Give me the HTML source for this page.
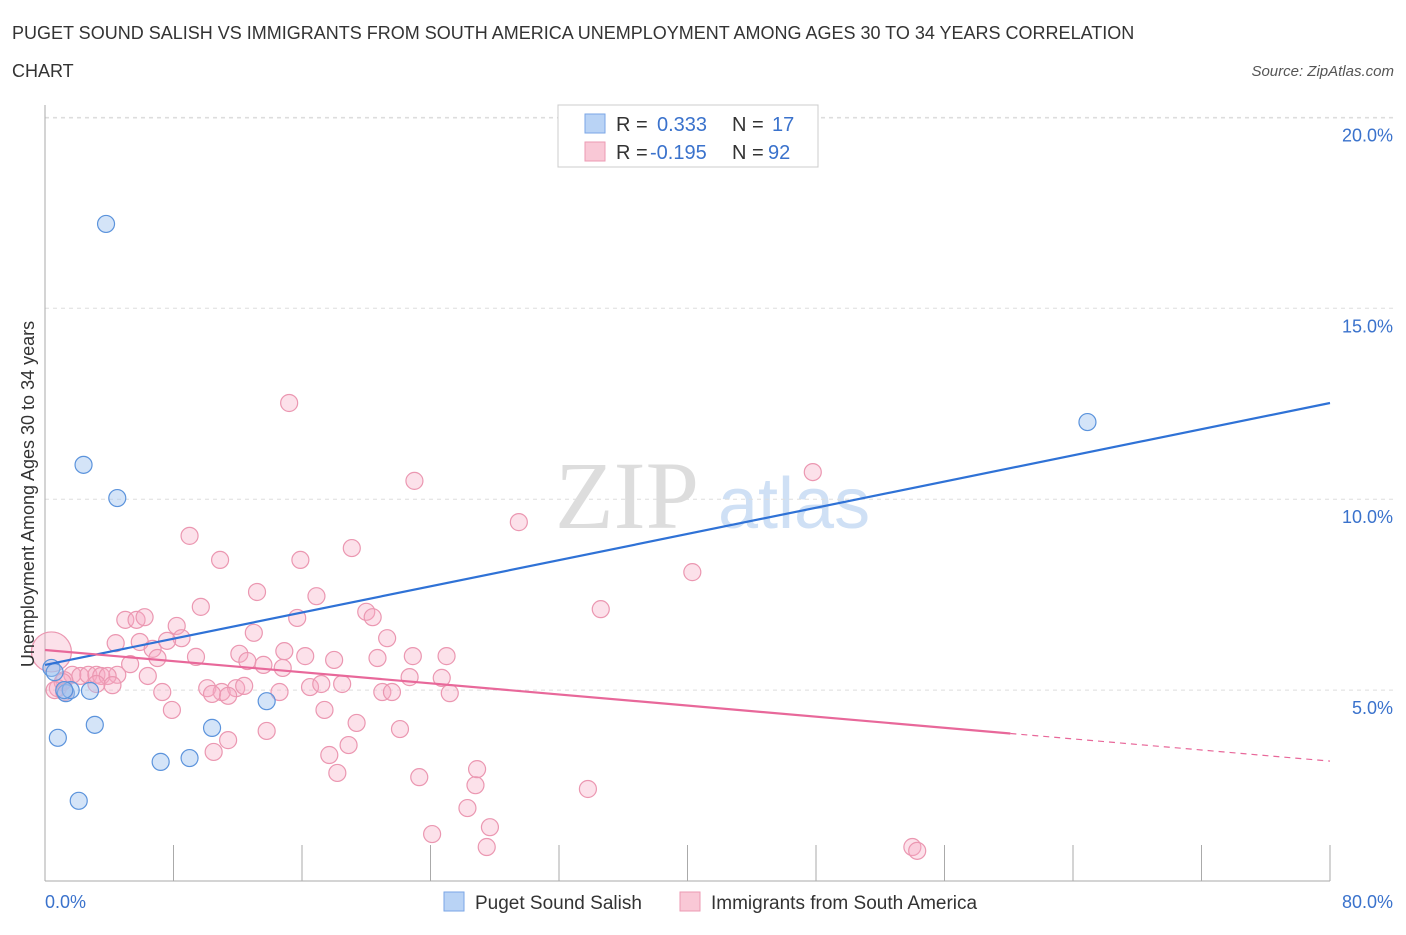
<!DOCTYPE html>
<html><head><meta charset="utf-8">
<style>
body{margin:0;background:#fff;font-family:"Liberation Sans",sans-serif;}
svg text{font-family:"Liberation Sans",sans-serif;}
</style></head>
<body>
<svg id="chart" width="1406" height="930" viewBox="0 0 1406 930">
<text x="12" y="39" font-size="18" fill="#333">PUGET SOUND SALISH VS IMMIGRANTS FROM SOUTH AMERICA UNEMPLOYMENT AMONG AGES 30 TO 34 YEARS CORRELATION</text>
<text x="12" y="77" font-size="18" fill="#333">CHART</text>
<text x="1394" y="76" font-size="15" fill="#555" font-style="italic" text-anchor="end">Source: ZipAtlas.com</text>
<text x="555" y="528" font-size="96" fill="#ddd" style="font-family:'Liberation Serif',serif">ZIP</text>
<text x="718" y="528" font-size="72" fill="#cfe0f5">atlas</text>
<g id="grid"></g>
<g id="axes"></g>
<g id="points"></g>
<g id="trends"></g>
<g>
<rect x="558" y="105" width="260" height="62" fill="#fff" stroke="#ccc"/>
<rect x="585" y="114" width="20" height="19" fill="#b9d3f5" stroke="#7aa6e6"/>
<text x="616" y="131" font-size="20" fill="#333">R =</text>
<text x="657" y="131" font-size="20" fill="#3a72cc">0.333</text>
<text x="732" y="131" font-size="20" fill="#333">N =</text>
<text x="772" y="131" font-size="20" fill="#3a72cc">17</text>
<rect x="585" y="142" width="20" height="19" fill="#f9c8d6" stroke="#ec9ab3"/>
<text x="616" y="159" font-size="20" fill="#333">R =</text>
<text x="650" y="159" font-size="20" fill="#3a72cc">-0.195</text>
<text x="732" y="159" font-size="20" fill="#333">N =</text>
<text x="768" y="159" font-size="20" fill="#3a72cc">92</text>
</g>
<g>
<rect x="444" y="892" width="20" height="19" fill="#b9d3f5" stroke="#7aa6e6"/>
<text x="475" y="909" font-size="19" fill="#333">Puget Sound Salish</text>
<rect x="680" y="892" width="20" height="19" fill="#f9c8d6" stroke="#ec9ab3"/>
<text x="711" y="909" font-size="19" fill="#333">Immigrants from South America</text>
</g>
<text x="34" y="494" font-size="18" fill="#333" text-anchor="middle" transform="rotate(-90 34 494)">Unemployment Among Ages 30 to 34 years</text>
</svg>
<script>
const yTicks=[5,10,15,20];
const yTickLabels=["5.0%","10.0%","15.0%","20.0%"];
const xTickCount=[0,8,16,24,32,40,48,56,64,72,80];
const xEndLabels=["0.0%","80.0%"];
const salishX=[3.8,2.4,4.5,64.9,0.4,0.6,1.3,2.8,1.6,3.1,0.8,2.1,7.2,9.0,10.4,13.8,1.2];
const salishY=[17.21,10.90,10.03,12.02,5.58,5.47,4.92,4.98,5.00,4.09,3.75,2.10,3.12,3.22,4.01,4.71,5.00];
const immX=[9.0,10.9,15.9,19.1,15.2,23.0,29.5,47.8,40.3,34.6,13.2,16.9,9.7,15.7,20.0,20.4,5.0,5.7,6.2,8.2,8.5,13.0,21.3,4.4,5.9,6.7,7.6,12.1,14.9,16.2,18.0,20.7,22.9,25.0,5.3,7.0,9.4,12.6,13.6,14.8,4.5,6.4,1.7,2.2,2.7,3.2,3.5,3.9,1.2,4.2,3.2,0.8,1.1,10.1,11.0,11.9,12.4,14.6,16.5,17.2,18.5,21.0,21.6,22.7,24.7,25.2,7.3,10.4,11.4,7.9,17.4,19.4,13.8,22.1,11.4,10.5,17.7,18.9,18.2,23.3,26.8,26.9,33.8,26.3,24.1,27.7,27.5,54.0,54.3,0.6,1.2,0.4];
const immY=[9.04,8.41,8.41,8.72,12.52,10.48,9.40,10.71,8.09,7.12,7.57,7.46,7.18,6.89,7.05,6.91,6.84,6.84,6.91,6.68,6.36,6.50,6.36,6.23,6.26,6.08,6.29,5.95,6.02,5.89,5.79,5.84,5.89,5.89,5.68,5.84,5.87,5.76,5.66,5.58,5.40,5.37,5.40,5.37,5.40,5.40,5.37,5.37,5.26,5.13,5.16,5.05,5.21,5.05,4.95,5.05,5.11,4.95,5.08,5.16,5.16,4.95,4.95,5.34,5.32,4.92,4.95,4.90,4.85,4.48,4.48,4.14,3.93,3.98,3.69,3.38,3.30,3.56,2.83,2.72,2.51,2.93,2.41,1.91,1.23,1.41,0.89,0.89,0.79,5.00,4.95,6.00];
const salishTrend=[5.66,12.52];
const immTrend=[6.05,3.14];
const immSolidEnd=60.1;
const NS='http://www.w3.org/2000/svg';
const X0=45,X1=1330,Y0=881,PX=38.18;
const xs=v=>X0+(v/80)*(X1-X0);
const ys=v=>Y0-v*PX;
function mk(tag,attrs,parent){const e=document.createElementNS(NS,tag);for(const k in attrs)e.setAttribute(k,attrs[k]);parent.appendChild(e);return e;}
const grid=document.getElementById('grid'),axes=document.getElementById('axes'),pts=document.getElementById('points'),tr=document.getElementById('trends');
yTicks.forEach((t,i)=>{
 const l=mk('line',{x1:X0,x2:1395,y1:ys(t),y2:ys(t),stroke:'#ddd','stroke-dasharray':'4,4'},grid);
 
 
 const tx=mk('text',{x:1393,y:ys(t)+24,'font-size':18,fill:'#3a72cc','text-anchor':'end'},axes);
 tx.textContent=yTickLabels[i];
 
 
});
const ya=mk('line',{x1:X0,x2:X0,y1:105,y2:Y0,stroke:'#aaa'},axes);


const xa=mk('line',{x1:X0,x2:X1,y1:Y0,y2:Y0,stroke:'#aaa'},axes);


xTickCount.forEach(t=>{
 const l=mk('line',{x1:xs(t),x2:xs(t),y1:845,y2:Y0,stroke:'#aaa'},axes);
 
 
});
const xl0=mk('text',{x:45,y:908,'font-size':18,fill:'#3a72cc'},axes);xl0.textContent=xEndLabels[0];


const xl1=mk('text',{x:1393,y:908,'font-size':18,fill:'#3a72cc','text-anchor':'end'},axes);xl1.textContent=xEndLabels[1];


immX.forEach((x,i)=>{
 const r=(i===immX.length-1)?20:8.5;
 const c=mk('circle',{cx:xs(x),cy:ys(immY[i]),r:r,fill:'rgba(246,170,195,0.35)',stroke:'#eb97b1','stroke-width':1.2},pts);
 
 
});
salishX.forEach((x,i)=>{
 const c=mk('circle',{cx:xs(x),cy:ys(salishY[i]),r:8.5,fill:'rgba(160,196,240,0.45)',stroke:'#5b93dc','stroke-width':1.2},pts);
 
 
});
const bl=mk('line',{x1:xs(0),y1:ys(salishTrend[0]),x2:xs(80),y2:ys(salishTrend[1]),stroke:'#2f72d6','stroke-width':2.2},tr);


const yAt=x=>immTrend[0]+(immTrend[1]-immTrend[0])*x/80;
const pl=mk('line',{x1:xs(0),y1:ys(immTrend[0]),x2:xs(immSolidEnd),y2:ys(yAt(immSolidEnd)),stroke:'#e8689a','stroke-width':2.2},tr);


const pd=mk('line',{x1:xs(immSolidEnd),y1:ys(yAt(immSolidEnd)),x2:xs(80),y2:ys(immTrend[1]),stroke:'#e8689a','stroke-width':1.2,'stroke-dasharray':'6,5'},tr);


const topGrid=mk('line',{x1:X0,x2:1395,y1:118,y2:118,stroke:'#ddd','stroke-dasharray':'4,4'},grid);


</script>
</body></html>
